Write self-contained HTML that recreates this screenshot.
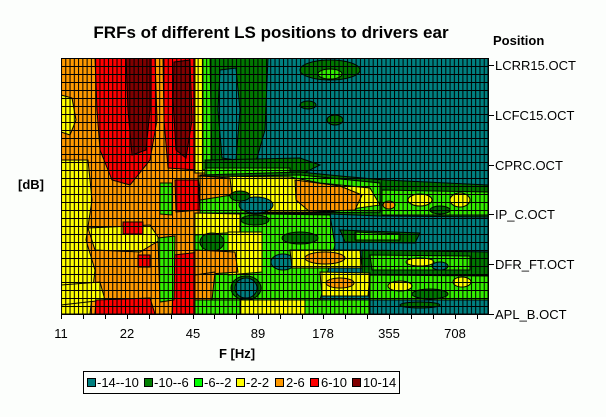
<!DOCTYPE html>
<html><head><meta charset="utf-8"><style>
html,body{margin:0;padding:0;background:#fcfefc;}
svg{display:block;font-family:"Liberation Sans",sans-serif;}
</style></head><body>
<svg width="606" height="417" viewBox="0 0 606 417" xmlns="http://www.w3.org/2000/svg">
<defs>
<pattern id="gv" x="61" y="0" width="4.27" height="417" patternUnits="userSpaceOnUse"><rect x="0" y="0" width="1" height="417" fill="#000"/></pattern>
<pattern id="gh" x="0" y="58" width="606" height="8" patternUnits="userSpaceOnUse"><rect x="0" y="0" width="606" height="1" fill="#000"/></pattern>
<clipPath id="pc"><rect x="61" y="58" width="427" height="256"/></clipPath>
</defs>
<rect width="606" height="417" fill="#fcfefc"/>
<g clip-path="url(#pc)" stroke="#000" stroke-width="1">
<rect x="61" y="58" width="427" height="256" fill="#ff9900"/>
<path d="M61,160 L88,160 L92,200 L86,240 L95,270 L90,314 L61,314Z" fill="#ffff00"/>
<path d="M61,95 L72,98 L76,120 L70,135 L61,132Z" fill="#ffff00"/>
<path d="M88,228 L150,225 L160,240 L140,252 L95,250Z" fill="#ffff00"/>
<path d="M61,285 L100,282 L105,300 L61,305Z" fill="#ffff00"/>
<path d="M95,58 L155,58 L157,120 L150,160 L130,185 L112,180 L100,150 L97,110Z" fill="#ff0000"/>
<path d="M126,58 L150,58 L150,110 L146,150 L132,155 L128,110Z" fill="#800000"/>
<path d="M163,58 L197,58 L197,170 L168,168 L164,120Z" fill="#ff0000"/>
<path d="M174,62 L190,60 L192,120 L186,158 L176,150 L173,100Z" fill="#800000"/>
<path d="M175,180 L198,180 L200,210 L176,212Z" fill="#ff0000"/>
<path d="M174,255 L200,252 L203,314 L172,314Z" fill="#ff0000"/>
<rect x="123" y="222" width="20" height="12" fill="#ff0000"/>
<rect x="138" y="255" width="12" height="12" fill="#ff0000"/>
<path d="M96,300 L150,298 L155,314 L95,314Z" fill="#ff0000"/>
<path d="M160,183 L172,183 L172,215 L160,214Z" fill="#33ee00"/>
<path d="M158,238 L175,236 L174,300 L160,302Z" fill="#33ee00"/>
<rect x="195" y="58" width="10" height="115" fill="#ffff00"/>
<rect x="203" y="58" width="12" height="112" fill="#33ee00"/>
<path d="M213,58 L488,58 L488,314 L213,314Z" fill="#008080"/>
<path d="M210,58 L268,58 L265,130 L255,165 L212,168Z" fill="#007800"/>
<path d="M220,70 L236,68 L240,110 L236,160 L222,158 L218,110Z" fill="#008080"/>
<ellipse cx="330" cy="70" rx="30" ry="10" fill="#007800"/>
<ellipse cx="330" cy="74" rx="12" ry="5" fill="#33ee00"/>
<ellipse cx="308" cy="105" rx="8" ry="4" fill="#007800"/>
<ellipse cx="335" cy="120" rx="8" ry="5" fill="#007800"/>
<path d="M205,160 L300,158 L320,165 L300,175 L205,178Z" fill="#007800"/>
<path d="M205,168 L290,168 L290,178 L205,180Z" fill="#33ee00"/>
<path d="M200,175 L300,172 L340,176 L385,180 L488,185 L488,217 L380,216 L330,214 L260,214 L200,214Z" fill="#007800"/>
<path d="M200,177 L300,175 L380,183 L380,212 L300,213 L200,213Z" fill="#33ee00"/>
<path d="M198,176 L290,177 L320,183 L370,188 L380,205 L330,212 L265,212 L240,196 L200,195Z" fill="#ffff00"/>
<path d="M295,180 L340,186 L362,195 L355,210 L310,212 L296,200Z" fill="#ff9900"/>
<path d="M200,176 L230,178 L232,195 L200,200Z" fill="#ff9900"/>
<ellipse cx="256" cy="205" rx="17" ry="8" fill="#008080"/>
<ellipse cx="240" cy="196" rx="10" ry="5" fill="#007800"/>
<path d="M382,190 L488,192 L488,215 L382,215Z" fill="#33ee00"/>
<ellipse cx="420" cy="200" rx="12" ry="6" fill="#ffff00"/>
<ellipse cx="460" cy="200" rx="10" ry="7" fill="#ffff00"/>
<ellipse cx="440" cy="210" rx="10" ry="4" fill="#007800"/>
<ellipse cx="389" cy="205" rx="6" ry="4" fill="#ff9900"/>
<path d="M195,213 L330,215 L335,245 L320,300 L195,300Z" fill="#33ee00"/>
<path d="M195,213 L240,214 L240,232 L195,235Z" fill="#ffff00"/>
<ellipse cx="212" cy="242" rx="12" ry="9" fill="#007800"/>
<path d="M228,232 L262,232 L262,272 L228,275Z" fill="#ffff00"/>
<path d="M195,250 L235,252 L238,272 L195,275Z" fill="#ff9900"/>
<ellipse cx="255" cy="220" rx="14" ry="5" fill="#007800"/>
<ellipse cx="283" cy="262" rx="12" ry="8" fill="#008080"/>
<ellipse cx="300" cy="238" rx="18" ry="6" fill="#007800"/>
<path d="M340,230 L420,233 L415,243 L345,242Z" fill="#007800"/>
<path d="M355,232 L400,234 L400,240 L355,240Z" fill="#33ee00"/>
<path d="M290,250 L360,250 L362,268 L292,268Z" fill="#ffff00"/>
<ellipse cx="325" cy="258" rx="20" ry="6" fill="#ff9900"/>
<path d="M362,250 L488,252 L488,275 L362,275Z" fill="#007800"/>
<path d="M370,255 L470,256 L470,270 L372,270Z" fill="#33ee00"/>
<ellipse cx="420" cy="262" rx="14" ry="4" fill="#ffff00"/>
<ellipse cx="440" cy="266" rx="8" ry="4" fill="#008080"/>
<path d="M195,275 L215,272 L212,300 L195,300Z" fill="#ff9900"/>
<ellipse cx="246" cy="288" rx="15" ry="12" fill="#007800"/>
<ellipse cx="246" cy="288" rx="11" ry="10" fill="#008080"/>
<path d="M320,272 L370,273 L368,296 L322,296Z" fill="#ffff00"/>
<ellipse cx="340" cy="283" rx="14" ry="5" fill="#ff9900"/>
<path d="M370,275 L488,276 L488,300 L370,300Z" fill="#33ee00"/>
<ellipse cx="400" cy="286" rx="12" ry="5" fill="#ffff00"/>
<ellipse cx="462" cy="282" rx="9" ry="5" fill="#ffff00"/>
<ellipse cx="430" cy="294" rx="18" ry="5" fill="#007800"/>
<path d="M195,300 L370,300 L370,314 L195,314Z" fill="#33ee00"/>
<path d="M240,300 L305,300 L305,314 L240,314Z" fill="#ffff00"/>
<path d="M370,300 L488,300 L488,314 L370,314Z" fill="#008080"/>
<ellipse cx="420" cy="305" rx="20" ry="3" fill="#007800"/>
</g>
<g clip-path="url(#pc)">
<rect x="61" y="58" width="427" height="256" fill="url(#gv)"/>
<rect x="61" y="58" width="427" height="256" fill="url(#gh)"/>
</g>
<g stroke="#000" stroke-width="1" fill="none">
<line x1="61" y1="314.5" x2="488" y2="314.5"/>
<line x1="488.5" y1="58" x2="488.5" y2="315"/>
<path d="M61.5,314v5M83.5,314v5M105.5,314v5M127.5,314v5M149.5,314v5M171.5,314v5M193.5,314v5M214.5,314v5M236.5,314v5M258.5,314v5M280.5,314v5M302.5,314v5M323.5,314v5M345.5,314v5M367.5,314v5M389.5,314v5M411.5,314v5M433.5,314v5M455.5,314v5M477.5,314v5"/>
<path d="M488,65.5h6M488,115.5h6M488,165.5h6M488,214.5h6M488,264.5h6M488,314.5h6"/>
</g>
<g font-size="13" fill="#000">
<text x="61" y="338" text-anchor="middle">11</text>
<text x="127" y="338" text-anchor="middle">22</text>
<text x="193" y="338" text-anchor="middle">45</text>
<text x="258" y="338" text-anchor="middle">89</text>
<text x="323" y="338" text-anchor="middle">178</text>
<text x="389" y="338" text-anchor="middle">355</text>
<text x="455" y="338" text-anchor="middle">708</text>
<text x="495" y="70">LCRR15.OCT</text>
<text x="495" y="120">LCFC15.OCT</text>
<text x="495" y="170">CPRC.OCT</text>
<text x="495" y="219">IP_C.OCT</text>
<text x="495" y="269">DFR_FT.OCT</text>
<text x="495" y="319">APL_B.OCT</text>
</g>
<g font-weight="bold" fill="#000">
<text x="271" y="38" font-size="17" text-anchor="middle">FRFs of different LS positions to drivers ear</text>
<text x="493" y="45" font-size="13">Position</text>
<text x="18" y="189" font-size="13">[dB]</text>
<text x="237" y="358" font-size="13" text-anchor="middle">F [Hz]</text>
</g>
<rect x="83.5" y="371.5" width="316" height="22" fill="#fcfefc" stroke="#000"/>
<g stroke="#000" stroke-width="1">
<rect x="87.5" y="378.5" width="8" height="8" fill="#008080"/>
<rect x="144.5" y="378.5" width="8" height="8" fill="#008000"/>
<rect x="194.5" y="378.5" width="8" height="8" fill="#00ff00"/>
<rect x="236.5" y="378.5" width="8" height="8" fill="#ffff00"/>
<rect x="275.5" y="378.5" width="8" height="8" fill="#ff9900"/>
<rect x="310.5" y="378.5" width="8" height="8" fill="#ff0000"/>
<rect x="352.5" y="378.5" width="8" height="8" fill="#800000"/>
</g>
<g font-size="13" fill="#000">
<text x="97" y="387">-14--10</text>
<text x="154" y="387">-10--6</text>
<text x="204" y="387">-6--2</text>
<text x="246" y="387">-2-2</text>
<text x="286" y="387">2-6</text>
<text x="321" y="387">6-10</text>
<text x="363" y="387">10-14</text>
</g>
</svg>
</body></html>
